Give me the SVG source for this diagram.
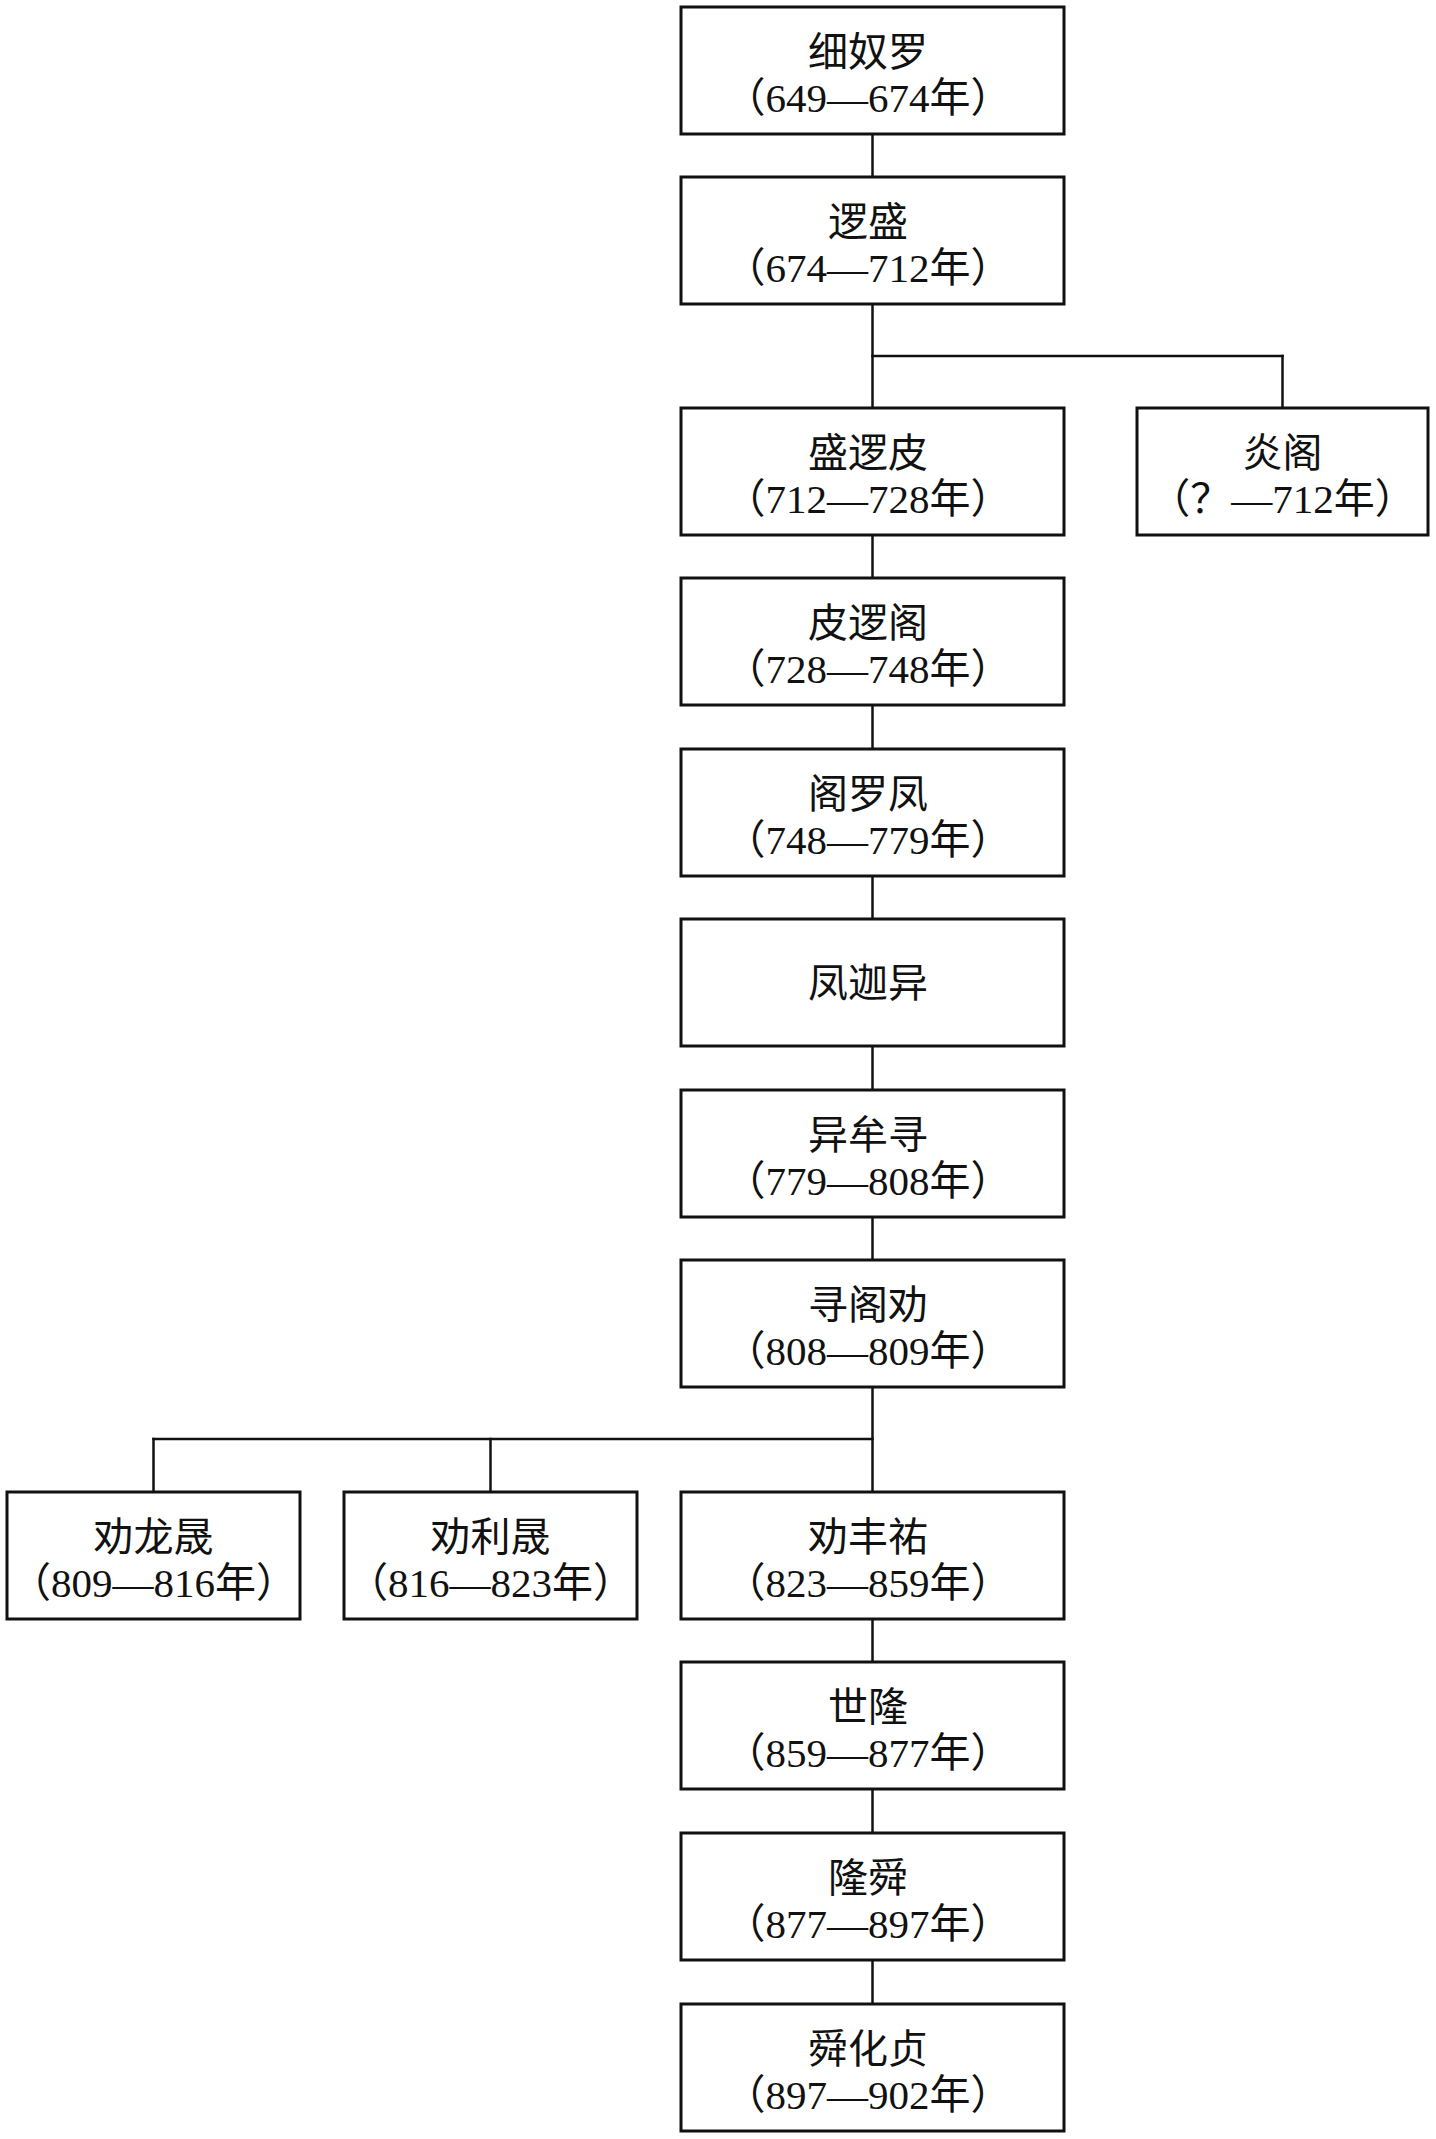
<svg xmlns="http://www.w3.org/2000/svg" width="1436" height="2139" viewBox="0 0 1436 2139">
<style>
rect.box{fill:#fff;stroke:#111;stroke-width:3}
.conn line{stroke:#111;stroke-width:2.5;stroke-linecap:square}
text{font-family:"Liberation Serif","Noto Sans CJK SC",serif;fill:#111;text-anchor:middle}
.nm{font-size:40px}
.dt{font-size:41px}
</style>
<rect width="1436" height="2139" fill="#fff"/>
<g class="conn" id="connectors">
<line x1="872.5" y1="134" x2="872.5" y2="177"/>
<line x1="872.5" y1="304" x2="872.5" y2="408"/>
<line x1="872.5" y1="356" x2="1282.5" y2="356"/>
<line x1="1282.5" y1="356" x2="1282.5" y2="408"/>
<line x1="872.5" y1="535" x2="872.5" y2="578"/>
<line x1="872.5" y1="705" x2="872.5" y2="749"/>
<line x1="872.5" y1="876" x2="872.5" y2="919"/>
<line x1="872.5" y1="1046" x2="872.5" y2="1090"/>
<line x1="872.5" y1="1217" x2="872.5" y2="1260"/>
<line x1="872.5" y1="1387" x2="872.5" y2="1492"/>
<line x1="153.5" y1="1439" x2="872.5" y2="1439"/>
<line x1="153.5" y1="1439" x2="153.5" y2="1492"/>
<line x1="490.5" y1="1439" x2="490.5" y2="1492"/>
<line x1="872.5" y1="1619" x2="872.5" y2="1662"/>
<line x1="872.5" y1="1789" x2="872.5" y2="1833"/>
<line x1="872.5" y1="1960" x2="872.5" y2="2004"/>
</g>
<g id="n1"><rect class="box" x="681" y="7" width="383" height="127"/><text class="nm" x="868" y="66">细奴罗</text><text class="dt" x="868" y="112">（649—674年）</text></g>
<g id="n2"><rect class="box" x="681" y="177" width="383" height="127"/><text class="nm" x="868" y="236">逻盛</text><text class="dt" x="868" y="282">（674—712年）</text></g>
<g id="n3"><rect class="box" x="681" y="408" width="383" height="127"/><text class="nm" x="868" y="467">盛逻皮</text><text class="dt" x="868" y="513">（712—728年）</text></g>
<g id="n3b"><rect class="box" x="1137" y="408" width="291" height="127"/><text class="nm" x="1282.5" y="467">炎阁</text><text class="dt" x="1282.5" y="513">（？—712年）</text></g>
<g id="n4"><rect class="box" x="681" y="578" width="383" height="127"/><text class="nm" x="868" y="637">皮逻阁</text><text class="dt" x="868" y="683">（728—748年）</text></g>
<g id="n5"><rect class="box" x="681" y="749" width="383" height="127"/><text class="nm" x="868" y="808">阁罗凤</text><text class="dt" x="868" y="854">（748—779年）</text></g>
<g id="n6"><rect class="box" x="681" y="919" width="383" height="127"/><text class="nm" x="868" y="997">凤迦异</text></g>
<g id="n7"><rect class="box" x="681" y="1090" width="383" height="127"/><text class="nm" x="868" y="1149">异牟寻</text><text class="dt" x="868" y="1195">（779—808年）</text></g>
<g id="n8"><rect class="box" x="681" y="1260" width="383" height="127"/><text class="nm" x="868" y="1319">寻阁劝</text><text class="dt" x="868" y="1365">（808—809年）</text></g>
<g id="n9a"><rect class="box" x="7" y="1492" width="293" height="127"/><text class="nm" x="153.5" y="1551">劝龙晟</text><text class="dt" x="153.5" y="1597">（809—816年）</text></g>
<g id="n9b"><rect class="box" x="344" y="1492" width="293" height="127"/><text class="nm" x="490.5" y="1551">劝利晟</text><text class="dt" x="490.5" y="1597">（816—823年）</text></g>
<g id="n9"><rect class="box" x="681" y="1492" width="383" height="127"/><text class="nm" x="868" y="1551">劝丰祐</text><text class="dt" x="868" y="1597">（823—859年）</text></g>
<g id="n10"><rect class="box" x="681" y="1662" width="383" height="127"/><text class="nm" x="868" y="1721">世隆</text><text class="dt" x="868" y="1767">（859—877年）</text></g>
<g id="n11"><rect class="box" x="681" y="1833" width="383" height="127"/><text class="nm" x="868" y="1892">隆舜</text><text class="dt" x="868" y="1938">（877—897年）</text></g>
<g id="n12"><rect class="box" x="681" y="2004" width="383" height="127"/><text class="nm" x="868" y="2063">舜化贞</text><text class="dt" x="868" y="2109">（897—902年）</text></g>
</svg>
